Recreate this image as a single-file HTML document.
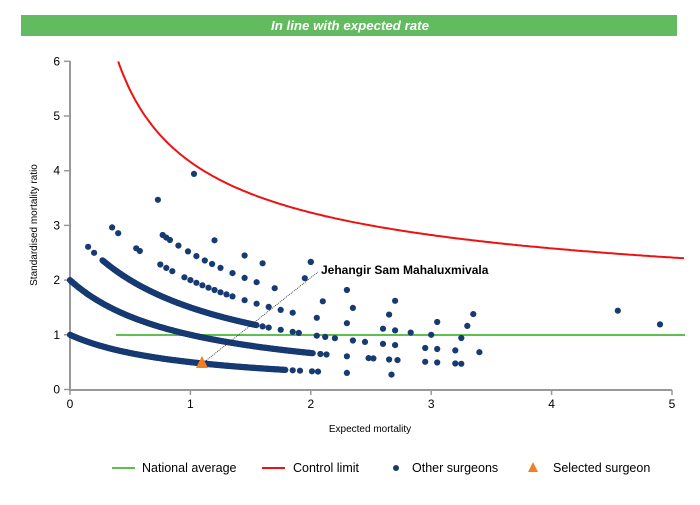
<!DOCTYPE html>
<html><head><meta charset="utf-8"><style>
body{margin:0;background:#fff;font-family:"Liberation Sans",sans-serif}
</style></head><body>
<svg id="s" width="700" height="500" xmlns="http://www.w3.org/2000/svg" font-family="Liberation Sans, sans-serif">
<rect x="21" y="15" width="656" height="21" fill="#62bb5e"/>
<text x="350" y="30" text-anchor="middle" fill="#fff" font-size="13" font-style="italic" font-weight="bold" textLength="158" lengthAdjust="spacingAndGlyphs">In line with expected rate</text>
<g stroke="#999" stroke-width="2" fill="none">
<line x1="70" y1="61" x2="70" y2="390"/><line x1="69" y1="390" x2="672" y2="390"/>
</g>
<g stroke="#999" stroke-width="1.5" id="ticks"></g>
<g font-size="12" fill="#000" text-anchor="end" id="ylab"></g>
<g font-size="12" fill="#000" text-anchor="middle" id="xlab"></g>
<text x="370" y="432" font-size="10" text-anchor="middle">Expected mortality</text>
<text transform="translate(37,225) rotate(-90)" font-size="10" text-anchor="middle">Standardised mortality ratio</text>
<line x1="116" y1="335" x2="685" y2="335" stroke="#5fbf4f" stroke-width="2"/>
<path id="ctrl" fill="none" stroke="#ee1111" stroke-width="2"/>
<g id="dots" fill="#173a73"></g>
<line x1="203" y1="363" x2="318" y2="272" stroke="#222" stroke-width="0.8" stroke-dasharray="1,1"/>
<polygon points="202,356 196,368 208,368" fill="#f08020"/>
<text x="321" y="274" font-size="12" font-weight="bold">Jehangir Sam Mahaluxmivala</text>
<line x1="112" y1="468" x2="135" y2="468" stroke="#5fbf4f" stroke-width="2"/>
<text x="142" y="472" font-size="12.5">National average</text>
<line x1="262" y1="468" x2="285" y2="468" stroke="#ee1111" stroke-width="2"/>
<text x="293" y="472" font-size="12.5">Control limit</text>
<circle cx="396" cy="468" r="3" fill="#173a73"/>
<text x="412" y="472" font-size="12.5">Other surgeons</text>
<polygon points="533,462 528,472 538,472" fill="#f08020"/>
<text x="553" y="472" font-size="12.5">Selected surgeon</text>
</svg>
<script>
var NS="http://www.w3.org/2000/svg";
function X(e){return 70+e*120.4}function Y(v){return 389.5-v*54.7}
function el(p,t,a,txt){var e=document.createElementNS(NS,t);for(var k in a)e.setAttribute(k,a[k]);if(txt!=null)e.textContent=txt;document.getElementById(p).appendChild(e);}
for(var i=0;i<=6;i++){el("ticks","line",{x1:64,x2:70,y1:Y(i),y2:Y(i)});el("ylab","text",{x:60,y:Y(i)+4},i);}
for(var i=0;i<=5;i++){el("ticks","line",{x1:X(i),x2:X(i),y1:390,y2:395});el("xlab","text",{x:X(i),y:408},i);}
var d="";for(var e=0.4;e<=5.1;e+=0.02){d+=(d?"L":"M")+X(e).toFixed(1)+","+Y(1+3.16/Math.sqrt(e)).toFixed(1);}
document.getElementById("ctrl").setAttribute("d",d);
function dot(e,v){el("dots","circle",{cx:X(e).toFixed(1),cy:Y(v).toFixed(1),r:3.1});}
function band(k,xs){xs.forEach(function(e){dot(e,k/(1+e));});}
function dense(k,a,b){for(var e=a;e<=b;e+=0.006)dot(e,k/(1+e));}
dense(1,0,1.79);band(1,[1.85,1.91,2.01,2.06,2.3,2.67]);
dense(2,0,2.02);band(2,[2.08,2.13,2.3,2.48,2.52,2.65,2.72,2.95,3.05,3.2,3.25]);
band(3,[0.15,0.2]);dense(3,0.27,1.55);band(3,[1.6,1.65,1.75,1.85,1.9,2.05,2.12,2.2,2.35,2.45,2.6,2.7,2.95,3.05,3.2,3.4]);
band(4,[0.35,0.4,0.55,0.58,0.75,0.8,0.85,0.95,1.0,1.05,1.1,1.15,1.2,1.25,1.3,1.35,1.45,1.55,1.65,1.75,1.85,2.05,2.3,2.6,2.7,3.0,3.25]);
band(5,[0.77,0.8,0.83,0.9,0.98,1.05,1.12,1.18,1.25,1.35,1.45,1.55,1.7,2.1,2.35,2.65,3.05,3.3]);
band(6,[0.73,1.2,1.45,1.6,1.95,2.3,2.7,3.35]);
band(7,[2.0]);band(8,[1.03]);
dot(4.55,1.44);dot(4.9,1.19);dot(2.83,1.04);dot(2.0,2.33);
</script>
</body></html>
